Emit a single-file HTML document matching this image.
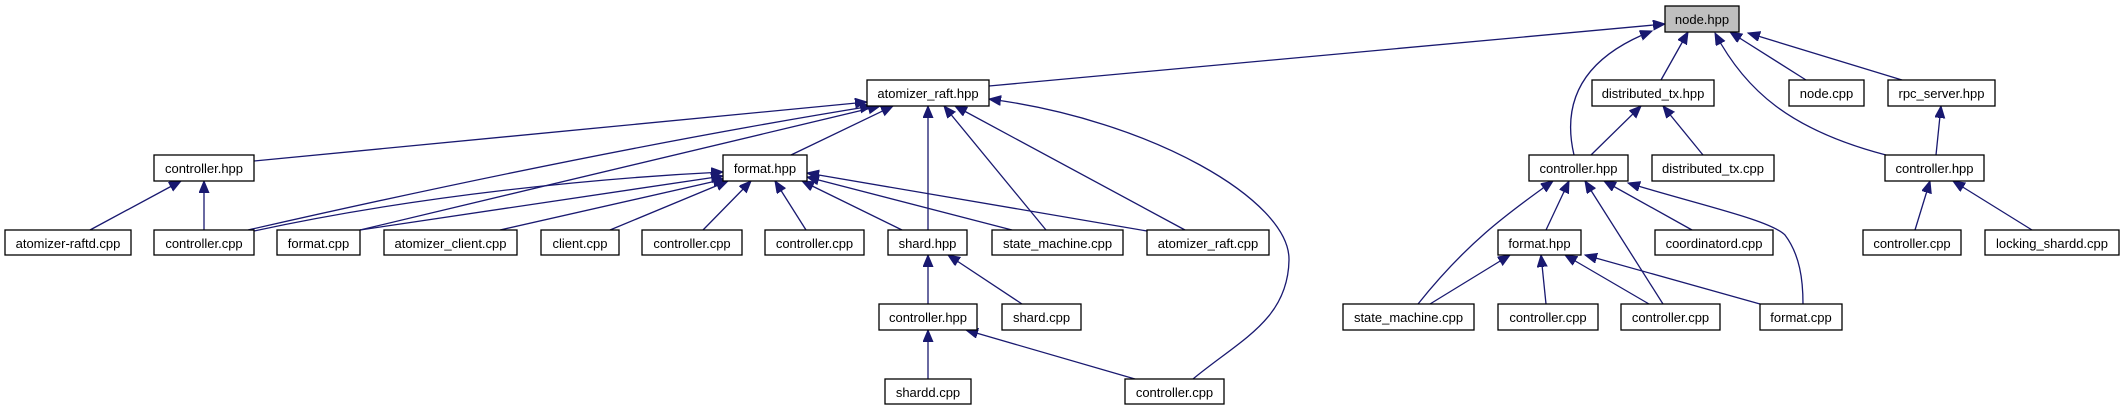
<!DOCTYPE html>
<html><head><meta charset="utf-8"><style>
html,body{margin:0;padding:0;background:#fff;}
svg{display:block;}
text{font-family:"Liberation Sans",Arial,sans-serif;font-size:13px;fill:#000;text-anchor:middle;}
rect{fill:#fff;stroke:#000;stroke-width:1.3;}
path{fill:none;stroke:#191970;stroke-width:1.3;}
</style></head><body>
<svg width="2124" height="411" viewBox="0 0 2124 411" xmlns="http://www.w3.org/2000/svg">
<defs>
<marker id="a" markerUnits="userSpaceOnUse" markerWidth="14" markerHeight="12" refX="12" refY="5" orient="auto-start-reverse">
<path d="M0,0 L12,5 L0,10 z" style="fill:#191970;stroke:#191970;stroke-width:1"/>
</marker>
</defs>
<g marker-start="url(#a)">
<path d="M1665,24 L989,86"/>
<path d="M1652,31 C1590,55 1560,95 1574,155"/>
<path d="M1688,32 L1661,80"/>
<path d="M1715,33 C1745,90 1790,130 1886,155"/>
<path d="M1730,32 L1806,80"/>
<path d="M1748,33 L1902,80"/>
<path d="M1641,106 L1591,155"/>
<path d="M1663,106 L1703,155"/>
<path d="M1941,106 L1936,155"/>
<path d="M1930,181 L1915,230"/>
<path d="M1953,181 L2032,230"/>
<path d="M1553,181 C1505,215 1465,245 1418,304"/>
<path d="M1569,181 L1546,230"/>
<path d="M1585,181 L1663,304"/>
<path d="M1604,181 L1692,230"/>
<path d="M1628,183 C1700,205 1770,220 1785,235 C1800,255 1803,280 1803,304"/>
<path d="M1510,255 L1430,304"/>
<path d="M1541,255 L1546,304"/>
<path d="M1565,255 L1649,304"/>
<path d="M1585,255 L1760,304"/>
<path d="M867,102 L254,161"/>
<path d="M872,106 Q600,150 248,230"/>
<path d="M880,106 L360,230"/>
<path d="M893,106 L791,155"/>
<path d="M928,106 L928,230"/>
<path d="M944,106 L1046,230"/>
<path d="M955,106 L1185,230"/>
<path d="M989,99 C1150,120 1290,200 1289,260 C1288,320 1240,340 1193,379"/>
<path d="M723,172 C600,178 420,195 254,231"/>
<path d="M723,176 L360,230"/>
<path d="M725,179 L500,230"/>
<path d="M728,181 L610,230"/>
<path d="M751,181 L703,230"/>
<path d="M775,181 L806,230"/>
<path d="M802,181 L902,230"/>
<path d="M807,177 L1012,230"/>
<path d="M807,173 L1147,231"/>
<path d="M928,255 L928,304"/>
<path d="M948,255 L1022,304"/>
<path d="M928,330 L928,379"/>
<path d="M966,330 L1135,379"/>
<path d="M181,181 L90,230"/>
<path d="M204,181 L204,230"/>
</g>
<g>
<rect x="1665" y="6" width="74" height="26" style="fill:#bfbfbf"/><text x="1702" y="24">node.hpp</text>
<rect x="867" y="80" width="122" height="26"/><text x="928" y="98">atomizer_raft.hpp</text>
<rect x="1592" y="80" width="122" height="26"/><text x="1653" y="98">distributed_tx.hpp</text>
<rect x="1789" y="80" width="75" height="26"/><text x="1826.5" y="98">node.cpp</text>
<rect x="1888" y="80" width="107" height="26"/><text x="1941.5" y="98">rpc_server.hpp</text>
<rect x="154" y="155" width="100" height="26"/><text x="204" y="173">controller.hpp</text>
<rect x="723" y="155" width="84" height="26"/><text x="765" y="173">format.hpp</text>
<rect x="1529" y="155" width="99" height="26"/><text x="1578.5" y="173">controller.hpp</text>
<rect x="1652" y="155" width="122" height="26"/><text x="1713" y="173">distributed_tx.cpp</text>
<rect x="1885" y="155" width="99" height="26"/><text x="1934.5" y="173">controller.hpp</text>
<rect x="5" y="230" width="126" height="25"/><text x="68" y="248">atomizer-raftd.cpp</text>
<rect x="154" y="230" width="100" height="25"/><text x="204" y="248">controller.cpp</text>
<rect x="277" y="230" width="83" height="25"/><text x="318.5" y="248">format.cpp</text>
<rect x="384" y="230" width="133" height="25"/><text x="450.5" y="248">atomizer_client.cpp</text>
<rect x="541" y="230" width="78" height="25"/><text x="580" y="248">client.cpp</text>
<rect x="642" y="230" width="100" height="25"/><text x="692" y="248">controller.cpp</text>
<rect x="765" y="230" width="99" height="25"/><text x="814.5" y="248">controller.cpp</text>
<rect x="888" y="230" width="79" height="25"/><text x="927.5" y="248">shard.hpp</text>
<rect x="992" y="230" width="131" height="25"/><text x="1057.5" y="248">state_machine.cpp</text>
<rect x="1147" y="230" width="122" height="25"/><text x="1208" y="248">atomizer_raft.cpp</text>
<rect x="1498" y="230" width="83" height="25"/><text x="1539.5" y="248">format.hpp</text>
<rect x="1655" y="230" width="118" height="25"/><text x="1714" y="248">coordinatord.cpp</text>
<rect x="1863" y="230" width="98" height="25"/><text x="1912" y="248">controller.cpp</text>
<rect x="1985" y="230" width="134" height="25"/><text x="2052" y="248">locking_shardd.cpp</text>
<rect x="879" y="304" width="98" height="26"/><text x="928" y="322">controller.hpp</text>
<rect x="1002" y="304" width="79" height="26"/><text x="1041.5" y="322">shard.cpp</text>
<rect x="1343" y="304" width="131" height="26"/><text x="1408.5" y="322">state_machine.cpp</text>
<rect x="1498" y="304" width="100" height="26"/><text x="1548" y="322">controller.cpp</text>
<rect x="1621" y="304" width="99" height="26"/><text x="1670.5" y="322">controller.cpp</text>
<rect x="1760" y="304" width="82" height="26"/><text x="1801" y="322">format.cpp</text>
<rect x="885" y="379" width="86" height="25"/><text x="928" y="397">shardd.cpp</text>
<rect x="1125" y="379" width="99" height="25"/><text x="1174.5" y="397">controller.cpp</text>
</g>
</svg>
</body></html>
